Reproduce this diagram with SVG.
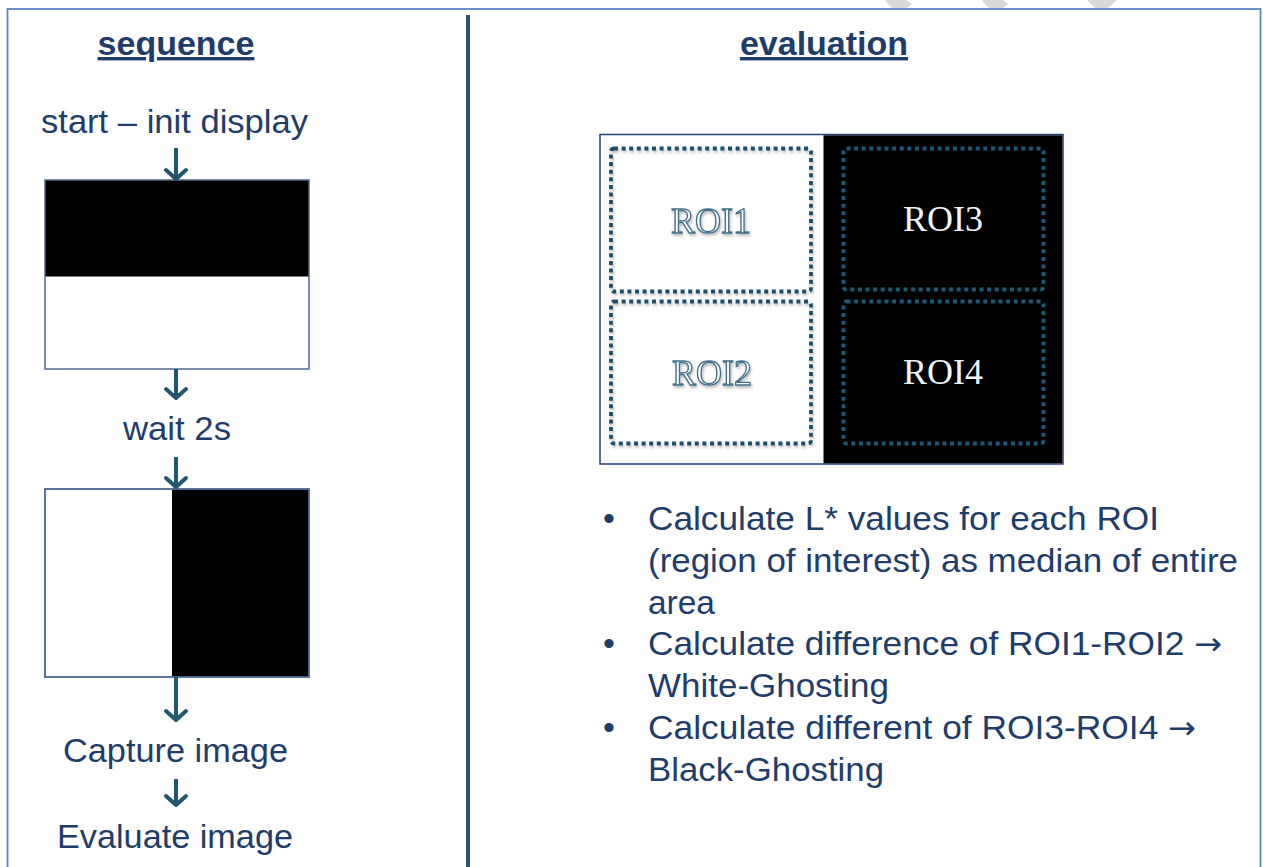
<svg xmlns="http://www.w3.org/2000/svg" width="1263" height="867" viewBox="0 0 1263 867">
<style>
.t{font-family:"Liberation Sans",Arial,sans-serif;font-size:34px;fill:#1f3d6b}
.ar{font-family:"DejaVu Sans",sans-serif;font-size:32px}
.h{font-family:"Liberation Sans",Arial,sans-serif;font-size:34px;font-weight:bold;fill:#1f3d6b;text-decoration:underline}
.box{stroke:#4f6b94;stroke-width:1.5}
.roi{fill:none;stroke-width:3.8;stroke-dasharray:4 3.6}
.rw{stroke:#1f4e6a}
.rb{stroke:#1d5877}
.rt{font-family:"Liberation Serif","Times New Roman",serif;font-size:36px;text-anchor:middle}
.rtw{fill:#ffffff;stroke:#3f6f8a;stroke-width:1.3}
.rtb{fill:#eef4f8}
.arr{stroke:#22566f;stroke-width:4;fill:none}
.chev{fill:#d9d9d9}
</style>
<defs>
<marker id="ah" markerUnits="userSpaceOnUse" viewBox="-14 -14 28 28" markerWidth="28" markerHeight="28" refX="-1" refY="0" orient="auto">
<path d="M-10,-10 L-1,0 L-10,10" fill="none" stroke="#22566f" stroke-width="4" stroke-linecap="round" stroke-linejoin="round"/>
</marker>
<filter id="sh" x="-10%" y="-10%" width="120%" height="120%">
<feDropShadow dx="1" dy="2" stdDeviation="1.5" flood-color="#000" flood-opacity="0.3"/>
</filter>
</defs>
<rect width="1263" height="867" fill="#ffffff"/>
<g id="top-chevrons">
<polygon class="chev" points="885,0 906,0 912,4 907,8 892,8 888,4"/>
<polygon class="chev" points="982,0 1003,0 1008,4 1003,8 989,8 985,4"/>
<polygon class="chev" points="1087,0 1117,0 1108,8 1095,8"/>
</g>
<g id="frame">
<rect x="7.5" y="9" width="1253" height="880" fill="none" stroke="#5a87c5" stroke-width="1.8"/>
<line x1="468" y1="15" x2="468" y2="867" stroke="#2a5570" stroke-width="4"/>
</g>
<g id="titles">
<text class="h" x="176" y="55" text-anchor="middle">sequence</text>
<text class="h" x="824" y="55" text-anchor="middle">evaluation</text>
</g>
<g id="seq-start"><text class="t" x="41" y="133" textLength="267" lengthAdjust="spacingAndGlyphs">start – init display</text></g>
<g id="screen1">
<rect class="box" x="45" y="180" width="264" height="189" fill="#ffffff"/>
<rect x="45.5" y="180.5" width="263" height="96" fill="#000000"/>
</g>
<g id="seq-wait"><text class="t" x="123" y="440" textLength="108" lengthAdjust="spacingAndGlyphs">wait 2s</text></g>
<g id="screen2">
<rect class="box" x="45" y="489" width="264" height="188" fill="#ffffff"/>
<rect x="172" y="489.5" width="136.5" height="187" fill="#000000"/>
<rect class="box" x="45" y="489" width="264" height="188" fill="none"/>
</g>
<g id="seq-capture"><text class="t" x="63" y="762" textLength="225" lengthAdjust="spacingAndGlyphs">Capture image</text></g>
<g id="seq-evaluate"><text class="t" x="57" y="848" textLength="236" lengthAdjust="spacingAndGlyphs">Evaluate image</text></g>
<g id="connectors">
<line class="arr" x1="176" y1="148" x2="176" y2="179" marker-end="url(#ah)"/>
<line class="arr" x1="176" y1="369" x2="176" y2="398" marker-end="url(#ah)"/>
<line class="arr" x1="176" y1="457" x2="176" y2="487" marker-end="url(#ah)"/>
<line class="arr" x1="176" y1="677" x2="176" y2="720" marker-end="url(#ah)"/>
<line class="arr" x1="176" y1="779" x2="176" y2="805" marker-end="url(#ah)"/>
</g>
<g id="roi-panel">
<rect x="600" y="134.5" width="463" height="329.5" fill="#ffffff" stroke="#24407a" stroke-width="1.5"/>
<rect x="823.5" y="135.3" width="238.8" height="328" fill="#000000"/>
</g>
<g id="roi1">
<rect class="roi rw" x="611" y="148.5" width="200" height="143" rx="3" filter="url(#sh)"/>
<text class="rt rtw" x="711" y="233" filter="url(#sh)">ROI1</text>
</g>
<g id="roi2">
<rect class="roi rw" x="611" y="301.5" width="200" height="142" rx="3" filter="url(#sh)"/>
<text class="rt rtw" x="712" y="385" filter="url(#sh)">ROI2</text>
</g>
<g id="roi3">
<rect class="roi rb" x="843.5" y="148.5" width="200" height="141" rx="3"/>
<text class="rt rtb" x="943" y="231">ROI3</text>
</g>
<g id="roi4">
<rect class="roi rb" x="843.5" y="301.5" width="200" height="142" rx="3"/>
<text class="rt rtb" x="943" y="384">ROI4</text>
</g>
<g id="bullets">
<text class="t" x="603" y="530">•</text>
<text class="t" x="648" y="530" textLength="511" lengthAdjust="spacingAndGlyphs">Calculate L* values for each ROI</text>
<text class="t" x="648" y="572" textLength="590" lengthAdjust="spacingAndGlyphs">(region of interest) as median of entire</text>
<text class="t" x="648" y="614" textLength="67" lengthAdjust="spacingAndGlyphs">area</text>
<text class="t" x="603" y="655">•</text>
<text class="t" x="648" y="655" textLength="574" lengthAdjust="spacingAndGlyphs">Calculate difference of ROI1-ROI2 <tspan class="ar">→</tspan></text>
<text class="t" x="648" y="697" textLength="241" lengthAdjust="spacingAndGlyphs">White-Ghosting</text>
<text class="t" x="603" y="739">•</text>
<text class="t" x="648" y="739" textLength="548" lengthAdjust="spacingAndGlyphs">Calculate different of ROI3-ROI4 <tspan class="ar">→</tspan></text>
<text class="t" x="648" y="781" textLength="236" lengthAdjust="spacingAndGlyphs">Black-Ghosting</text>
</g>
</svg>
